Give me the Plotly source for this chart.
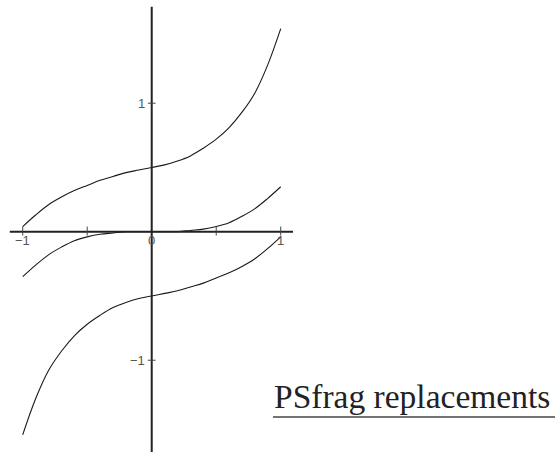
import plotly.graph_objects as go

# Sample abscissae shared by the three curves
x_vals = [-1.0, -0.9, -0.8, -0.7, -0.6, -0.5, -0.4, -0.3, -0.2, -0.1, 0.0,
          0.1, 0.2, 0.3, 0.4, 0.5, 0.6, 0.7, 0.8, 0.9, 1.0]

# Curve ordinates
upper = [0.04, 0.13, 0.21, 0.27, 0.32, 0.36, 0.40, 0.43, 0.46, 0.48, 0.50,
         0.52, 0.55, 0.59, 0.65, 0.72, 0.81, 0.93, 1.08, 1.30, 1.58]
middle = [-0.35, -0.26, -0.18, -0.12, -0.07, -0.04, -0.02, -0.01, 0.0, 0.0, 0.0,
          0.0, 0.0, 0.01, 0.02, 0.04, 0.07, 0.12, 0.18, 0.26, 0.35]
lower = [-1.58, -1.30, -1.08, -0.93, -0.81, -0.72, -0.65, -0.59, -0.55, -0.52, -0.50,
         -0.48, -0.46, -0.43, -0.40, -0.36, -0.32, -0.27, -0.21, -0.13, -0.04]

# Axis ticks and labels
x_tick_marks = [-1.0, -0.5, 0.5, 1.0]
x_tick_values = [-1, 0, 1]
x_tick_labels = ["\u22121", "0", "1"]
y_tick_marks = [-1.0, 1.0]
y_tick_labels = ["\u22121", "1"]

# Extent of the drawn axis lines
x_axis_span = [-1.10, 1.095]
y_axis_span = [-1.75, 1.75]

W, H = 555, 452
x_range = [-1.176, 3.126]
y_range = [-1.714, 1.803]

fig = go.Figure()

for ys in (upper, middle, lower):
    fig.add_trace(go.Scatter(
        x=x_vals, y=ys, mode="lines",
        line=dict(color="#1a1a1a", width=1.1, shape="spline", smoothing=1.0),
        hoverinfo="skip", showlegend=False,
    ))

axis_color = "#222222"
shapes = [
    dict(type="line", xref="x", yref="y", x0=x_axis_span[0], x1=x_axis_span[1],
         y0=0, y1=0, line=dict(color=axis_color, width=2)),
    dict(type="line", xref="x", yref="y", x0=0, x1=0,
         y0=y_axis_span[0], y1=y_axis_span[1], line=dict(color=axis_color, width=2)),
]
for t in x_tick_marks:
    shapes.append(dict(type="line", xref="x", yref="y", x0=t, x1=t, y0=-0.03, y1=0.04,
                       line=dict(color="#444444", width=1)))
for t in y_tick_marks:
    shapes.append(dict(type="line", xref="x", yref="y", x0=-0.03, x1=0.03, y0=t, y1=t,
                       line=dict(color="#444444", width=1)))

# underline beneath the caption
shapes.append(dict(type="line", xref="paper", yref="paper",
                   x0=273 / W, x1=1.0, y0=1 - 417 / H, y1=1 - 417 / H,
                   line=dict(color="#444444", width=1.5)))

annotations = []
tick_font = dict(family="Liberation Sans, Arial, sans-serif", size=13, color="#555555")
for v, lab in zip(x_tick_values, x_tick_labels):
    annotations.append(dict(x=v, y=-0.065, xref="x", yref="y", text=lab, showarrow=False,
                            xanchor="center", yanchor="middle", font=tick_font, borderpad=0))
for v, lab in zip(y_tick_marks, y_tick_labels):
    annotations.append(dict(x=-0.044, y=v, xref="x", yref="y", text=lab, showarrow=False,
                            xanchor="right", yanchor="middle", font=tick_font, borderpad=0))

annotations.append(dict(
    x=273 / W, y=1 - 396 / H, xref="paper", yref="paper",
    text="PSfrag replacements", showarrow=False, xanchor="left", yanchor="middle",
    font=dict(family="Liberation Serif, Times New Roman, serif", size=33.5, color="#222222"),
    borderpad=0,
))

fig.update_layout(
    width=W, height=H,
    margin=dict(l=0, r=0, t=0, b=0),
    paper_bgcolor="white", plot_bgcolor="white",
    xaxis=dict(range=x_range, visible=False, fixedrange=True),
    yaxis=dict(range=y_range, visible=False, fixedrange=True),
    shapes=shapes, annotations=annotations,
)

fig.write_html("out.html")
